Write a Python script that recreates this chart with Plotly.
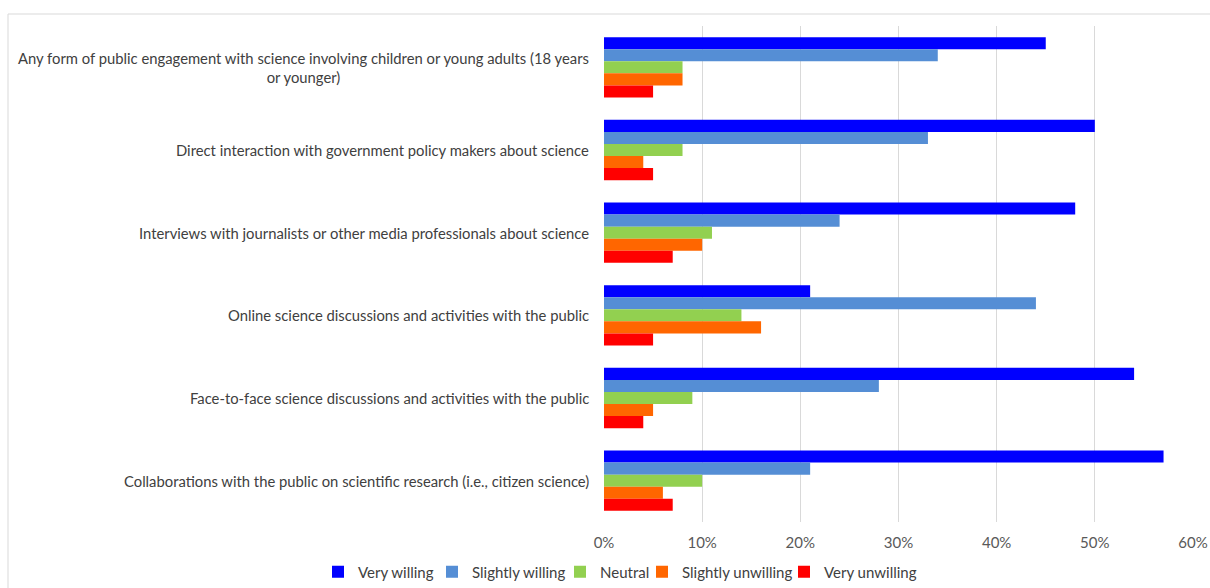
import plotly.graph_objects as go

categories = [
    "Any form of public engagement with science involving children or young adults (18 years<br>or younger)",
    "Direct interaction with government policy makers about science",
    "Interviews with journalists or other media professionals about science",
    "Online science discussions and activities with the public",
    "Face-to-face science discussions and activities with the public",
    "Collaborations with the public on scientific research (i.e., citizen science)",
]

series_names = ["Very willing", "Slightly willing", "Neutral", "Slightly unwilling", "Very unwilling"]

very_willing = [0.45, 0.50, 0.48, 0.21, 0.54, 0.57]
slightly_willing = [0.34, 0.33, 0.24, 0.44, 0.28, 0.21]
neutral = [0.08, 0.08, 0.11, 0.14, 0.09, 0.10]
slightly_unwilling = [0.08, 0.04, 0.10, 0.16, 0.05, 0.06]
very_unwilling = [0.05, 0.05, 0.07, 0.05, 0.04, 0.07]

x_tickvals = [0, 0.1, 0.2, 0.3, 0.4, 0.5, 0.6]
x_ticktext = ["0%", "10%", "20%", "30%", "40%", "50%", "60%"]

colors = ["#0000FF", "#558ED5", "#92D050", "#FF6600", "#FF0000"]
legend_widths = [69, 83, 37, 97, 93]

all_values = [very_willing, slightly_willing, neutral, slightly_unwilling, very_unwilling]

FONT = "Lato, 'Open Sans', sans-serif"

fig = go.Figure()
for name, vals, col, lw in zip(series_names, all_values, colors, legend_widths):
    fig.add_trace(go.Bar(
        y=categories, x=vals, name=name, orientation="h",
        marker=dict(color=col, line=dict(width=0)),
        legendwidth=lw,
    ))

W, H = 1210, 588
L, R, T, B = 604, 17, 26, 66
pw = W - L - R
ph = H - T - B

annotations = [
    dict(
        x=0, xref="paper", y=cat, yref="y", text=cat,
        xanchor="right", yanchor="middle", align="center",
        xshift=-13, showarrow=False,
        font=dict(family=FONT, size=14.8, color="#404040"),
    )
    for cat in categories
]

fig.update_layout(
    width=W, height=H,
    margin=dict(l=L, r=R, t=T, b=B, pad=0, autoexpand=False),
    barmode="group",
    bargap=0.27,
    bargroupgap=0,
    plot_bgcolor="white",
    paper_bgcolor="white",
    font=dict(family=FONT, size=14, color="#404040"),
    showlegend=True,
    legend=dict(
        orientation="h", x=(318 - L) / pw, xanchor="left",
        y=(522 - 572) / ph, yanchor="middle",
        font=dict(family=FONT, size=15, color="#404040"),
        itemwidth=30, tracegroupgap=0,
    ),
    xaxis=dict(
        range=[0, 0.6], tickvals=x_tickvals, ticktext=x_ticktext,
        showgrid=True, gridcolor="#D9D9D9", gridwidth=1,
        zeroline=False, showline=False, ticks="",
        tickfont=dict(family=FONT, size=15, color="#595959"),
        ticklabelstandoff=10,
    ),
    yaxis=dict(
        autorange="reversed", showgrid=False, zeroline=False,
        showline=False, ticks="", showticklabels=False,
    ),
    annotations=annotations,
    shapes=[dict(
        type="rect", xref="paper", yref="paper",
        x0=(8 - L) / pw, x1=(1260 - L) / pw,
        y0=(522 - 640) / ph, y1=(522 - 14) / ph,
        line=dict(color="#D9D9D9", width=1), fillcolor="rgba(0,0,0,0)",
        layer="below",
    )],
)

fig.write_html("out.html")
